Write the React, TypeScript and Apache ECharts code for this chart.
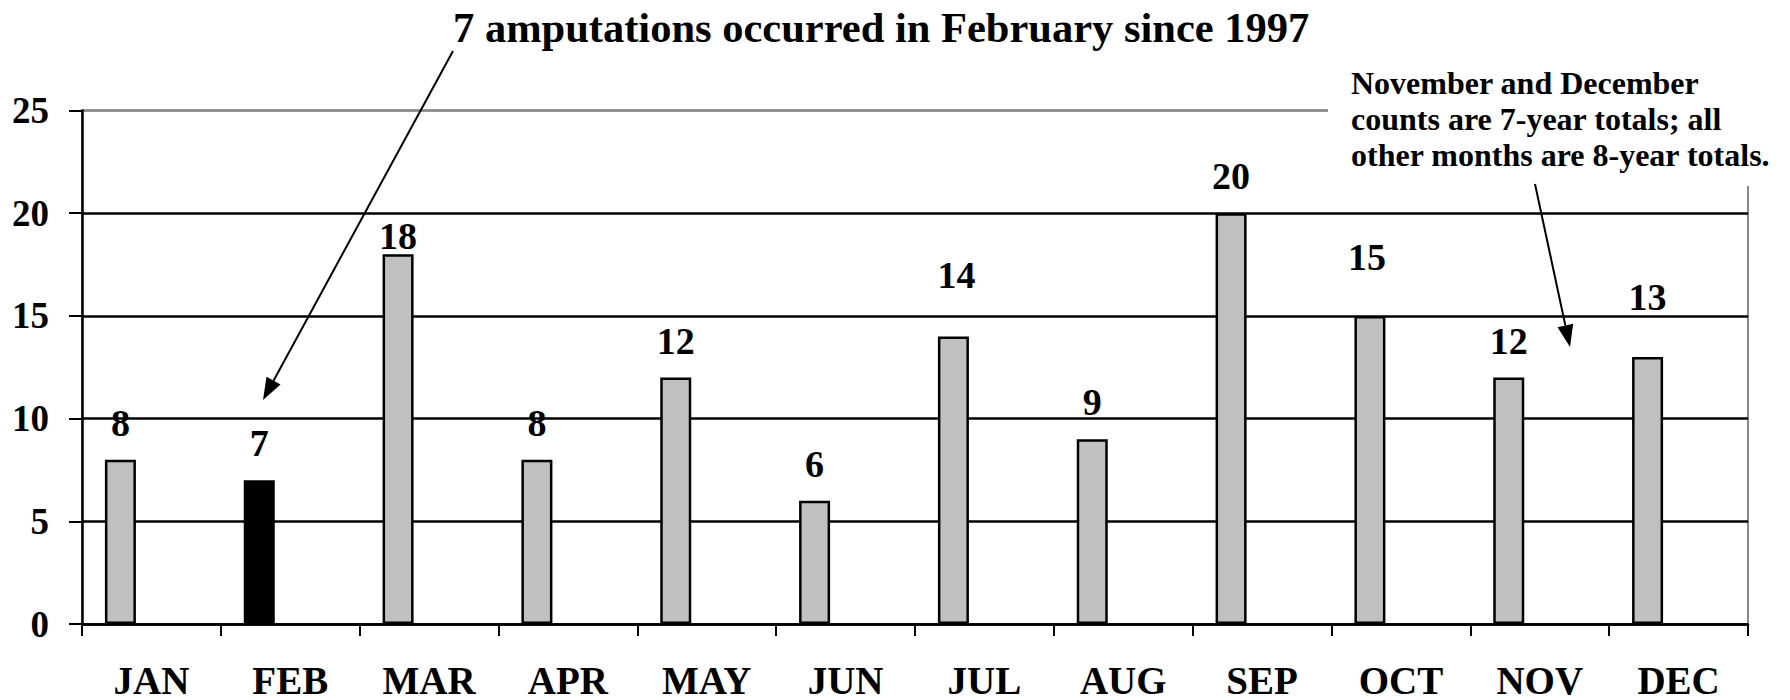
import React, { useEffect, useRef } from "react";
import * as echarts from "echarts";

const months = ["JAN", "FEB", "MAR", "APR", "MAY", "JUN", "JUL", "AUG", "SEP", "OCT", "NOV", "DEC"];
const counts = [8, 7, 18, 8, 12, 6, 14, 9, 20, 15, 12, 13];
const highlightMonth = "FEB";
const yMin = 0;
const yMax = 25;
const yStep = 5;
const titleText = "7 amputations occurred in February since 1997";
const noteLines = [
  "November and December",
  "counts are 7-year totals; all",
  "other months are 8-year totals.",
];

const FONT = '"Liberation Serif", "Times New Roman", Times, serif';

function arrow(x1: number, y1: number, x2: number, y2: number) {
  const dx = x2 - x1;
  const dy = y2 - y1;
  const len = Math.sqrt(dx * dx + dy * dy);
  const ux = dx / len;
  const uy = dy / len;
  const headLen = 22;
  const halfW = 8;
  const bx = x2 - ux * headLen;
  const by = y2 - uy * headLen;
  const px = -uy * halfW;
  const py = ux * halfW;
  return [
    {
      type: "line",
      z: 20,
      shape: { x1, y1, x2: bx, y2: by },
      style: { stroke: "#000", lineWidth: 2 },
    },
    {
      type: "polygon",
      z: 20,
      shape: { points: [[x2, y2], [bx + px, by + py], [bx - px, by - py]] },
      style: { fill: "#000" },
    },
  ];
}

export default function App() {
  const ref = useRef<HTMLDivElement>(null);

  useEffect(() => {
    if (!ref.current) return;
    const chart = echarts.init(ref.current, undefined, { renderer: "svg" });

    const labelNudges: Record<string, [number, number]> = {
      MAR: [0, 19],
      JUL: [3, -24],
      OCT: [-3, -22],
      DEC: [0, -23],
    };

    const barData = counts.map((v, i) => {
      const m = months[i];
      const item: any = {
        value: v,
        itemStyle: { color: m === highlightMonth ? "#000000" : "#c0c0c0" },
      };
      if (labelNudges[m]) item.label = { offset: labelNudges[m] };
      return item;
    });

    const option: any = {
      animation: false,
      backgroundColor: "#ffffff",
      title: {
        text: titleText,
        left: 453,
        top: 6,
        padding: 0,
        textStyle: { fontFamily: FONT, fontWeight: "bold", fontSize: 42.5, color: "#000" },
      },
      grid: {
        left: 82,
        right: 42,
        top: 110.5,
        bottom: 76,
        show: true,
        borderColor: "#888888",
        borderWidth: 2,
        backgroundColor: "transparent",
      },
      xAxis: {
        type: "category",
        data: months,
        boundaryGap: true,
        axisLine: { show: true, lineStyle: { color: "#000", width: 2.5 } },
        axisTick: { show: true, interval: 0, length: 12, lineStyle: { color: "#000", width: 2 } },
        axisLabel: {
          interval: 0,
          margin: 42,
          lineHeight: 28,
          fontFamily: FONT,
          fontWeight: "bold",
          fontSize: 39,
          color: "#000",
        },
        splitLine: { show: false },
      },
      yAxis: {
        type: "value",
        min: yMin,
        max: yMax,
        interval: yStep,
        axisLine: { show: true, lineStyle: { color: "#000", width: 2.5 } },
        axisTick: { show: true, length: 13, lineStyle: { color: "#000", width: 2 } },
        axisLabel: {
          margin: 33,
          fontFamily: FONT,
          fontWeight: "bold",
          fontSize: 37,
          color: "#000",
        },
        splitLine: {
          show: true,
          lineStyle: { color: ["#000", "#000", "#000", "#000", "#000", "#888888"], width: 2.5 },
        },
      },
      series: [
        {
          type: "bar",
          data: barData,
          barWidth: 31,
          barGap: "0%",
          itemStyle: { borderColor: "#000", borderWidth: 2.5 },
          label: {
            show: true,
            position: "top",
            distance: 18,
            fontFamily: FONT,
            fontWeight: "bold",
            fontSize: 38,
            color: "#000",
          },
          z: 3,
        },
        { type: "bar", data: [], barWidth: 31, barGap: "0%" },
        { type: "bar", data: [], barWidth: 31, barGap: "0%" },
      ],
      graphic: [
        {
          type: "rect",
          z: 10,
          shape: { x: 1328, y: 0, width: 462, height: 186 },
          style: { fill: "#ffffff" },
        },
        {
          type: "text",
          z: 11,
          x: 1351,
          y: 65,
          style: {
            text: noteLines.join("\n"),
            fontFamily: FONT,
            fontWeight: "bold",
            fontSize: 32,
            lineHeight: 36,
            fill: "#000",
            align: "left",
            verticalAlign: "top",
          },
        },
        ...arrow(453, 51, 263, 400),
        ...arrow(1535, 184, 1570, 347),
      ],
    };

    chart.setOption(option);
    return () => chart.dispose();
  }, []);

  return (
    <div
      ref={ref}
      style={{ position: "fixed", left: 0, top: 0, width: 1790, height: 700, background: "#fff" }}
    />
  );
}
